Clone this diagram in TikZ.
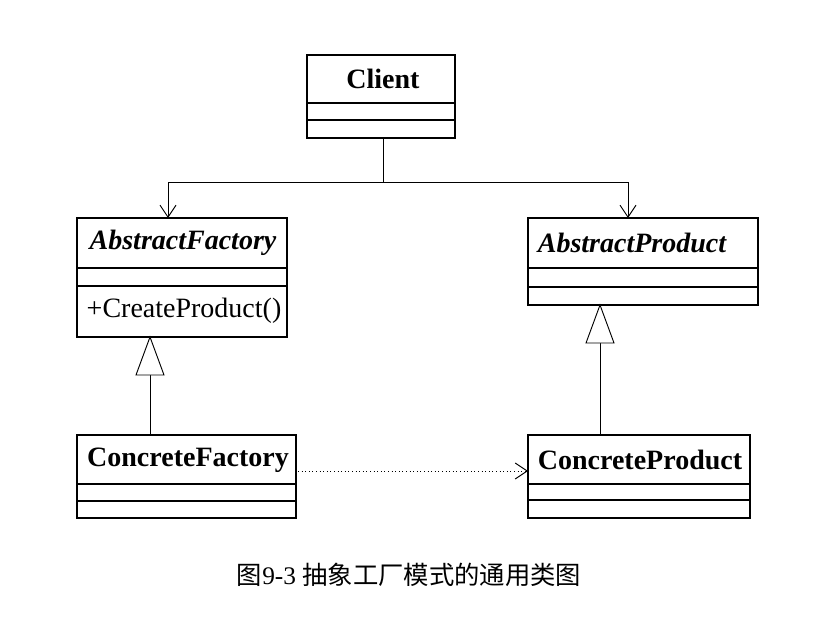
\documentclass[tikz,border=0pt]{standalone}
\usepackage{fontspec}
\setmainfont{Liberation Serif}
\newfontfamily\cjk{Noto Sans CJK SC}
\usetikzlibrary{arrows.meta}
\begin{document}
\begin{tikzpicture}[x=0.75pt,y=-0.75pt,
  box/.style={draw,line width=1.1pt},
  ttl/.style={font=\fontsize{21}{24}\selectfont\bfseries},
  conn/.style={line width=0.7pt},
  open/.style={-{Straight Barb[length=9pt,width=12pt]}}]
\useasboundingbox (0,0) rectangle (830,624);
% Client
\draw[box] (307,55) rectangle (455,138);
\draw[box] (307,103)--(455,103) (307,120)--(455,120);
\node[ttl] (client) at (383,79) {Client};
% AbstractFactory
\draw[box] (77,218) rectangle (287,337);
\draw[box] (77,268)--(287,268) (77,286)--(287,286);
\node[font=\fontsize{21}{24}\selectfont\bfseries\itshape] (af) at (183,243) {AbstractFactory};
\node[font=\fontsize{21}{24}\selectfont,anchor=west] (cp) at (82,311) {+CreateProduct()};
% AbstractProduct
\draw[box] (528,218) rectangle (758,305);
\draw[box] (528,268)--(758,268) (528,287)--(758,287);
\node[font=\fontsize{21}{24}\selectfont\bfseries\itshape] (ap) at (632,243) {AbstractProduct};
% ConcreteFactory
\draw[box] (77,435) rectangle (296,518);
\draw[box] (77,484)--(296,484) (77,501)--(296,501);
\node[ttl] (cf) at (188,460) {ConcreteFactory};
% ConcreteProduct
\draw[box] (528,435) rectangle (750,518);
\draw[box] (528,484)--(750,484) (528,500)--(750,500);
\node[ttl] (cpr) at (640,460) {ConcreteProduct};
% coordinates
\coordinate (cb) at (383,138);
\coordinate (j) at (383,182);
\coordinate (l) at (168,182);
\coordinate (r) at (628,182);
\coordinate (aft) at (168,218);
\coordinate (apt) at (628,218);
\draw[conn] (cb)--(j) (l)--(r);
\draw[conn,open] (l)--(aft);
\draw[conn,open] (r)--(apt);
% inheritance
\draw[conn] (150,435)--(150,375);
\draw[conn,fill=white] (150,337)--(136,375)--(164,375)--cycle;
\draw[conn] (600,435)--(600,343);
\draw[conn,fill=white] (600,305)--(586,343)--(614,343)--cycle;
% dependency
\coordinate (ds) at (298,471);
\coordinate (de) at (528,471);
\draw[conn,dotted,open] (ds)--(de);
% caption
\node[font=\fontsize{19}{22}\selectfont] (cap) at (409,575) {{\cjk 图}9-3 {\cjk 抽象工厂模式的通用类图}};
\end{tikzpicture}
\end{document}
